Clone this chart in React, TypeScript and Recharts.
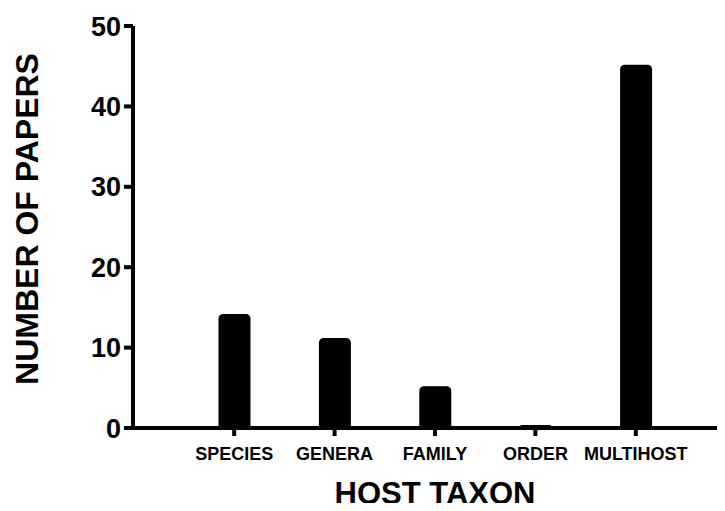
import { Bar, BarChart, Label, XAxis, YAxis } from "recharts";

const categories = ["SPECIES", "GENERA", "FAMILY", "ORDER", "MULTIHOST"];
const papers = [14, 11, 5, 0.2, 45];
const yTicks = [0, 10, 20, 30, 40, 50];

const data = categories.map((taxon, i) => ({ taxon, papers: papers[i] }));

const font = "'Liberation Sans', Arial, sans-serif";
const axisStroke = { stroke: "#000", strokeWidth: 4 };

export default function App() {
  return (
    <div style={{ margin: -8, width: 725, height: 511, background: "#fff", overflow: "hidden" }}>
      <BarChart
        width={725}
        height={511}
        data={data}
        margin={{ top: 26, right: 0, left: 0, bottom: 0 }}
      >
        <XAxis
          dataKey="taxon"
          padding={{ left: 51, right: 39 }}
          axisLine={axisStroke}
          tickLine={{ stroke: "#000", strokeWidth: 4 }}
          tickSize={8}
          tickMargin={11}
          interval={0}
          tick={{ fill: "#000", fontSize: 18, fontWeight: 700, fontFamily: font }}
          height={83}
        >
          <Label
            content={({ viewBox }: any) => (
              <text
                x={viewBox.x + viewBox.width / 2 + 6}
                y={viewBox.y + 76}
                textAnchor="middle"
                fill="#000"
                fontSize={31}
                fontWeight={700}
                fontFamily={font}
              >
                HOST TAXON
              </text>
            )}
          />
        </XAxis>
        <YAxis
          domain={[0, 50]}
          ticks={yTicks}
          width={133}
          axisLine={axisStroke}
          tickLine={{ stroke: "#000", strokeWidth: 4 }}
          tickSize={9}
          tickMargin={3}
          tick={{ fill: "#000", fontSize: 27, fontWeight: 700, fontFamily: font }}
        >
          <Label
            content={({ viewBox }: any) => {
              const cy = viewBox.y + viewBox.height / 2 - 8;
              return (
                <text
                  x={38}
                  y={cy}
                  transform={`rotate(-90, 38, ${cy})`}
                  textAnchor="middle"
                  fill="#000"
                  fontSize={32}
                  fontWeight={700}
                  fontFamily={font}
                >
                  NUMBER OF PAPERS
                </text>
              );
            }}
          />
        </YAxis>
        <Bar
          dataKey="papers"
          fill="#000"
          stroke="#000"
          strokeWidth={3}
          strokeLinejoin="round"
          barSize={29}
          radius={[3, 3, 0, 0]}
          isAnimationActive={false}
        />
      </BarChart>
    </div>
  );
}
